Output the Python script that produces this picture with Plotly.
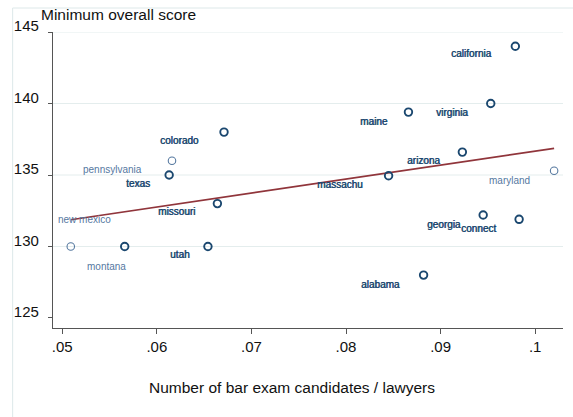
import numpy as np
import plotly.graph_objects as go

# Bar exam data: candidates per lawyer vs. minimum overall passing score
states = ["california", "virginia", "maine", "arizona", "massachu", "maryland",
          "georgia", "connect", "alabama", "colorado", "pennsylvania", "texas",
          "missouri", "new mexico", "montana", "utah"]
candidates_per_lawyer = [0.0979, 0.0953, 0.0866, 0.0923, 0.0845, 0.1020,
                         0.0945, 0.0983, 0.0882, 0.0671, 0.0616, 0.0613,
                         0.0664, 0.0509, 0.0566, 0.0654]
min_score = [144, 140, 139.4, 136.6, 134.95, 135.3,
             132.2, 131.9, 128, 138, 136, 135,
             133, 130, 130, 130]

x_ticks = [0.05, 0.06, 0.07, 0.08, 0.09, 0.10]
x_tick_text = [".05", ".06", ".07", ".08", ".09", ".1"]
y_ticks = [125, 130, 135, 140, 145]
y_grid = [130, 135, 140, 145]

# Styling: which markers / labels are drawn in the lighter tone
light_markers = {"maryland", "pennsylvania", "new mexico"}
light_labels = {"maryland", "pennsylvania", "new mexico", "montana"}

# Label placement: (right-edge x offset, vertical offset) in pixels from the marker
default_offset = (-21, 9)
label_offsets = {
    "california": (-22.7, 7.6), "virginia": (-20.3, 8.7), "maine": (-18.3, 9.3),
    "arizona": (-20.7, 8.7), "massachu": (-23.3, 8.3), "maryland": (-22.4, 9.4),
    "georgia": (-20.6, 9), "connect": (-21, 8.7), "alabama": (-21.3, 9),
    "colorado": (-23, 8.7), "pennsylvania": (-27.7, 8.4), "texas": (-17.3, 8.6),
    "missouri": (-20.6, 8), "utah": (-16.6, 8), "new mexico": (42, -27),
    "montana": (3.4, 19.6),
}

DARK = "#1a476f"
LIGHT = "#55789f"
FIT = "#90353b"
FONT = "Liberation Sans, Arial, sans-serif"

W, H = 573, 417
L, R, T, B = 52.7, 9.7, 32.3, 88.7
pw, ph = W - L - R, H - T - B

fig = go.Figure()

# Linear fit line across the observed range
slope, intercept = np.polyfit(candidates_per_lawyer, min_score, 1)
fx = np.array([min(candidates_per_lawyer), max(candidates_per_lawyer)])
fig.add_trace(go.Scatter(x=fx, y=slope * fx + intercept, mode="lines",
                         line=dict(color=FIT, width=1.6), hoverinfo="skip",
                         showlegend=False))

# Markers, two tones
for tone, col, lw in [("dark", DARK, 1.9), ("light", LIGHT, 1.1)]:
    idx = [i for i, s in enumerate(states)
           if (s in light_markers) == (tone == "light")]
    fig.add_trace(go.Scatter(
        x=[candidates_per_lawyer[i] for i in idx],
        y=[min_score[i] for i in idx],
        mode="markers",
        marker=dict(symbol="circle-open", size=7.5, color=col,
                    line=dict(width=lw, color=col)),
        showlegend=False, cliponaxis=False))

annotations = []
for s, xv, yv in zip(states, candidates_per_lawyer, min_score):
    dx, dy = label_offsets.get(s, default_offset)
    light = s in light_labels
    annotations.append(dict(
        x=xv, y=yv, xref="x", yref="y", text=s, showarrow=False,
        xanchor="right", yanchor="middle", xshift=dx, yshift=-dy,
        font=dict(family=FONT, size=10, color=LIGHT if light else DARK,
                  shadow="none" if light else f"0.55px 0 0 {DARK}")))

# Axis titles
annotations.append(dict(x=(38.3 - L) / pw, y=1 + (T - 15) / ph, xref="paper",
                        yref="paper", text="Minimum overall score",
                        showarrow=False, xanchor="left", yanchor="middle",
                        font=dict(family=FONT, size=15.5, color="#111111")))
annotations.append(dict(x=(292 - L) / pw, y=-(388 - (T + ph)) / ph,
                        xref="paper", yref="paper",
                        text="Number of bar exam candidates / lawyers",
                        showarrow=False, xanchor="center", yanchor="middle",
                        font=dict(family=FONT, size=15.5, color="#111111")))

shapes = []
for g in y_grid:
    shapes.append(dict(type="line", xref="paper", yref="y", x0=0, x1=1,
                       y0=g, y1=g, layer="below",
                       line=dict(color="#e4eded", width=1)))
# Outer graph-region frame (left and top edges)
fx0 = (12.3 - L) / pw
fy1 = 1 + (T - 8.3) / ph
shapes.append(dict(type="line", xref="paper", yref="paper", x0=fx0, x1=fx0,
                   y0=-0.4, y1=fy1, line=dict(color="#dde8e9", width=1)))
shapes.append(dict(type="line", xref="paper", yref="paper", x0=fx0, x1=1.1,
                   y0=fy1, y1=fy1, line=dict(color="#dde8e9", width=1)))

fig.update_layout(
    width=W, height=H,
    margin=dict(l=L, r=R, t=T, b=B, pad=0),
    paper_bgcolor="white", plot_bgcolor="white",
    font=dict(family=FONT, color="#111111"),
    annotations=annotations, shapes=shapes,
    xaxis=dict(range=[0.04902, 0.10294], tickvals=x_ticks, ticktext=x_tick_text,
               ticks="outside", ticklen=5, tickwidth=1.2, tickcolor="#555555",
               showline=True, linecolor="#555555", linewidth=1.3,
               showgrid=False, zeroline=False,
               tickfont=dict(family=FONT, size=15, color="#111111")),
    yaxis=dict(range=[124.30, 145.0], tickvals=y_ticks,
               ticks="outside", ticklen=4, tickwidth=1.2, tickcolor="#555555",
               showline=True, linecolor="#555555", linewidth=1.3,
               showgrid=False, zeroline=False, ticklabelshift=-6,
               ticklabelstandoff=6,
               tickfont=dict(family=FONT, size=15, color="#111111")),
)

fig.write_html("out.html")
